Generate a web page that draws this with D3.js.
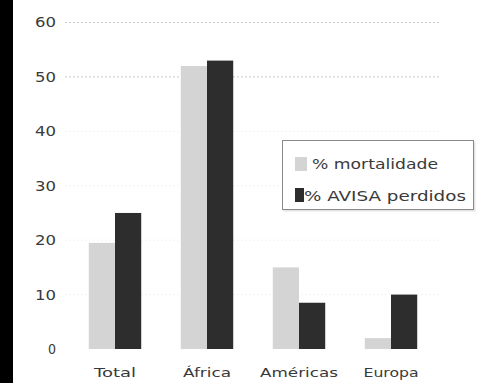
<!DOCTYPE html>
<html>
<head>
<meta charset="utf-8">
<script src="https://cdn.jsdelivr.net/npm/d3@7"></script>
<style>
  html, body { margin: 0; padding: 0; background: #fff; }
  svg { display: block; }
  text { font-family: "DejaVu Sans", sans-serif; fill: #3a3a3a; }
</style>
</head>
<body>
<svg id="chart" width="481" height="383"></svg>
<script>
// Regional burden: % of deaths vs % of DALYs lost
const categories = ["Total", "África", "Américas", "Europa"];
const mortalidade = [19.5, 52, 15, 2];
const avisaPerdidos = [25, 53, 8.5, 10];
const seriesNames = ["% mortalidade", "% AVISA perdidos"];
const seriesColors = ["#d4d4d4", "#2d2d2d"];
const yTicks = [0, 10, 20, 30, 40, 50, 60];

const svg = d3.select("#chart");
const W = 481, H = 383;

const x = d3.scaleBand().domain(categories).range([69, 437])
  .paddingInner(0.43).paddingOuter(0.215);
const x1 = d3.scaleBand().domain(d3.range(seriesNames.length))
  .range([0, x.bandwidth()]).padding(0);
const y = d3.scaleLinear().domain([0, 60]).range([349, 22.5]);

// left dark frame edge
svg.append("rect").attr("x", 0).attr("y", 0).attr("width", 13).attr("height", H).attr("fill", "#000");

// gridlines
svg.append("g").selectAll("line").data(yTicks.filter(d => d > 0)).join("line")
  .attr("x1", 65).attr("x2", 440)
  .attr("y1", d => y(d)).attr("y2", d => y(d))
  .attr("stroke", d => d >= 50 ? "#c8c8c8" : "#f3f3f3")
  .attr("stroke-width", 1)
  .attr("stroke-dasharray", "2,2");

// y axis labels
const yAxis = d3.axisLeft(y).tickValues(yTicks).tickSize(0).tickPadding(0);
const gy = svg.append("g").attr("transform", "translate(56,0)").call(yAxis);
gy.select(".domain").remove();
gy.selectAll("text").attr("font-size", 14).style("fill", "#3a3a3a")
  .style("font-family", "DejaVu Sans, sans-serif")
  .attr("textLength", d => d === 0 ? 8 : 21).attr("lengthAdjust", "spacingAndGlyphs");

// bars
const data = categories.map((c, i) => ({ c, v: [mortalidade[i], avisaPerdidos[i]] }));
const groups = svg.append("g").selectAll("g").data(data).join("g")
  .attr("transform", d => `translate(${x(d.c)},0)`);
groups.selectAll("rect").data(d => d.v.map((v, k) => ({ v, k }))).join("rect")
  .attr("x", d => x1(d.k))
  .attr("width", x1.bandwidth())
  .attr("y", d => y(d.v))
  .attr("height", d => y(0) - y(d.v))
  .attr("fill", d => seriesColors[d.k]);

// x axis labels
const labelWidths = { "Total": 42, "África": 48, "Américas": 78, "Europa": 55 };
const xAxis = d3.axisBottom(x).tickSize(0).tickPadding(0);
const gx = svg.append("g").attr("transform", "translate(0,368)").call(xAxis);
gx.select(".domain").remove();
gx.selectAll("text").attr("font-size", 13).style("fill", "#3a3a3a")
  .style("font-family", "DejaVu Sans, sans-serif")
  .attr("textLength", d => labelWidths[d]).attr("lengthAdjust", "spacingAndGlyphs");

// legend
const lg = svg.append("g").attr("transform", "translate(282,140)");
lg.append("rect").attr("x", 1.5).attr("y", 1.5).attr("width", 192).attr("height", 70)
  .attr("fill", "#e4e4e4");
lg.append("rect").attr("x", 0.5).attr("y", 0.5).attr("width", 191).attr("height", 69)
  .attr("fill", "#fff").attr("stroke", "#8a8a8a").attr("stroke-width", 1);
const items = lg.selectAll("g.item").data(seriesNames).join("g").attr("class", "item")
  .attr("transform", (d, i) => `translate(0,${i * 32})`);
items.append("rect").attr("x", 13).attr("y", (d, i) => i === 0 ? 17 : 16)
  .attr("width", (d, i) => i === 0 ? 12 : 9).attr("height", 14)
  .attr("fill", (d, i) => seriesColors[i]);
items.append("text").attr("x", (d, i) => i === 0 ? 30 : 22).attr("y", 29).attr("font-size", 13.5)
  .attr("textLength", (d, i) => i === 0 ? 126 : 162).attr("lengthAdjust", "spacingAndGlyphs")
  .text(d => d);
</script>
</body>
</html>
